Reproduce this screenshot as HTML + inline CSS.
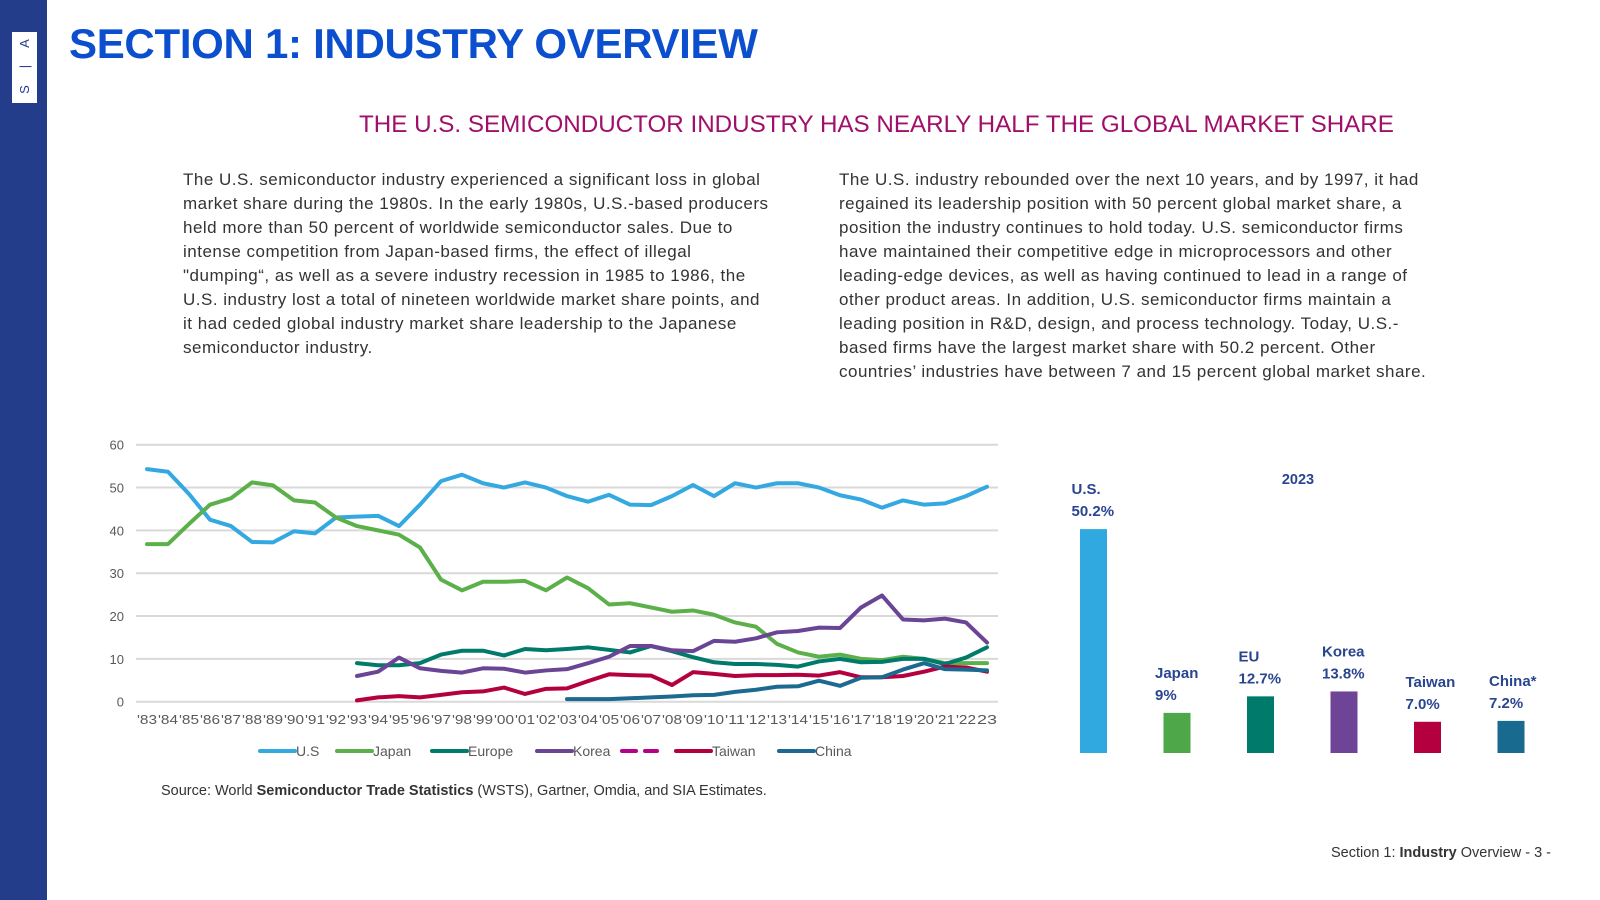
<!DOCTYPE html>
<html><head><meta charset="utf-8">
<style>
body{margin:0;width:1600px;height:900px;position:relative;background:#fff;font-family:"Liberation Sans",sans-serif;overflow:hidden}
.sidebar{position:absolute;left:0;top:0;width:47px;height:900px;background:#233d8a}
.logo{position:absolute;left:12px;top:32px;width:25px;height:71px;background:#fff;color:#233d8a;font-size:13px;text-align:center;line-height:23px}
.logo span{display:block;transform:rotate(-90deg)}
h1{position:absolute;left:69px;top:20px;margin:0;font-size:42px;font-weight:bold;color:#0b4fce;letter-spacing:-0.3px}
h2{position:absolute;left:359px;top:111px;margin:0;font-size:24.2px;font-weight:normal;color:#a0106a;white-space:nowrap}
.p{position:absolute;font-size:17px;letter-spacing:0.5px;line-height:24px;color:#333;margin:0;white-space:nowrap}
.src{position:absolute;left:161px;top:783px;font-size:14.5px;color:#333}
.foot{position:absolute;right:49px;top:845px;font-size:14.5px;color:#333}
svg{position:absolute;left:0;top:0}
</style></head><body>
<div class="sidebar"><div class="logo"><span>A</span><span>|</span><span>S</span></div></div>
<h1>SECTION 1: INDUSTRY OVERVIEW</h1>
<h2>THE U.S. SEMICONDUCTOR INDUSTRY HAS NEARLY HALF THE GLOBAL MARKET SHARE</h2>
<p class="p" style="left:183px;top:168px">The U.S. semiconductor industry experienced a significant loss in global<br>market share during the 1980s. In the early 1980s, U.S.-based producers<br>held more than 50 percent of worldwide semiconductor sales. Due to<br>intense competition from Japan-based firms, the effect of illegal<br>"dumping“, as well as a severe industry recession in 1985 to 1986, the<br>U.S. industry lost a total of nineteen worldwide market share points, and<br>it had ceded global industry market share leadership to the Japanese<br>semiconductor industry.</p>
<p class="p" style="left:839px;top:168px">The U.S. industry rebounded over the next 10 years, and by 1997, it had<br>regained its leadership position with 50 percent global market share, a<br>position the industry continues to hold today. U.S. semiconductor firms<br>have maintained their competitive edge in microprocessors and other<br>leading-edge devices, as well as having continued to lead in a range of<br>other product areas. In addition, U.S. semiconductor firms maintain a<br>leading position in R&amp;D, design, and process technology. Today, U.S.-<br>based firms have the largest market share with 50.2 percent. Other<br>countries’ industries have between 7 and 15 percent global market share.</p>
<div class="src">Source: World <b>Semiconductor Trade Statistics</b> (WSTS), Gartner, Omdia, and SIA Estimates.</div>
<div class="foot">Section 1: <b>Industry</b> Overview - 3 -</div>
<svg id="chart" width="1600" height="900"></svg>
<script>
const years=["'83","'84","'85","'86","'87","'88","'89","'90","'91","'92","'93","'94","'95","'96","'97","'98","'99","'00","'01","'02","'03","'04","'05","'06","'07","'08","'09","'10","'11","'12","'13","'14","'15","'16","'17","'18","'19","'20","'21","'22","23"];
const yTicks=[0,10,20,30,40,50,60];
const usVals=[54.3,53.7,48.5,42.5,41,37.3,37.2,39.8,39.3,43,43.2,43.4,41,46,51.5,53,51,50,51.2,50,48,46.7,48.3,46,45.9,48,50.6,48,51,50,51,51,50,48.2,47.2,45.3,47,46,46.3,48,50.2];
const japanVals=[36.8,36.8,41.5,46,47.5,51.2,50.5,47,46.5,43,41,40,39,36,28.5,26,28,28,28.2,26,29,26.5,22.7,23,22,21,21.3,20.3,18.5,17.5,13.5,11.5,10.5,11,10,9.7,10.5,10,9,9,9];
const europeVals=[9,8.5,8.5,9,11,11.9,11.9,10.8,12.3,12,12.3,12.7,12.1,11.5,13,11.8,10.4,9.2,8.8,8.8,8.6,8.2,9.4,10,9.2,9.3,10,10,8.8,10.3,12.7];
const koreaVals=[6,7,10.3,7.8,7.2,6.8,7.8,7.7,6.8,7.3,7.6,9,10.5,13,13,12,11.8,14.2,14,14.8,16.2,16.5,17.3,17.2,22,24.8,19.2,19,19.4,18.5,13.8];
const taiwanVals=[0.3,1,1.3,1,1.6,2.2,2.4,3.3,1.8,3,3.1,4.8,6.4,6.2,6.1,3.9,6.9,6.5,6,6.2,6.2,6.3,6.1,6.9,5.7,5.7,6,7,8.2,8,7];
const chinaVals=[0.6,0.6,0.6,0.8,1,1.2,1.5,1.6,2.3,2.8,3.5,3.6,4.9,3.7,5.6,5.7,7.5,9,7.6,7.5,7.3];
const barCats=["U.S.","Japan","EU","Korea","Taiwan","China*"];
const barVals=[50.2,9,12.7,13.8,7.0,7.2];
const barLabels=["50.2%","9%","12.7%","13.8%","7.0%","7.2%"];

const NS="http://www.w3.org/2000/svg";
const svg=document.getElementById('chart');
function mk(t,a,txt){const e=document.createElementNS(NS,t);for(const k in a)e.setAttribute(k,a[k]);if(txt!=null)e.textContent=txt;svg.appendChild(e);return e;}
const x=i=>147+i*21;
const y=v=>701.7-v*4.283;
yTicks.forEach(t=>{
  const g=mk('line',{x1:136,x2:998,y1:y(t),y2:y(t),stroke:'#d9d9d9','stroke-width':2});
  
  
  const l=mk('text',{x:124,y:y(t)+5,'text-anchor':'end','font-size':13,fill:'#595959'},t);
  
  
});
years.forEach((yr,i)=>{
  const l=mk('text',{x:x(i),y:724,'text-anchor':'middle','font-size':13,fill:'#595959',textLength:20,lengthAdjust:'spacingAndGlyphs'},yr);
  
  
});
const series=[["us",usVals,0,'#34a9e1'],["japan",japanVals,0,'#5cb04a'],["europe",europeVals,10,'#007a6a'],["korea",koreaVals,10,'#6a4596'],["taiwan",taiwanVals,10,'#b5003f'],["china",chinaVals,20,'#1c6a8f']];
series.forEach(([n,vals,off,c])=>{
  const p=mk('polyline',{points:vals.map((v,i)=>x(i+off)+','+y(v)).join(' '),fill:'none',stroke:c,'stroke-width':4,'stroke-linejoin':'round','stroke-linecap':'round'});
  
  
});
const legend=[["U.S",260,'#34a9e1',0],["Japan",337,'#5cb04a',0],["Europe",432,'#007a6a',0],["Korea",537,'#6a4596',0],["",622,'#b5008a',1],["Taiwan",676,'#b5003f',0],["China",779,'#1c6a8f',0]];
legend.forEach(([t,lx,c,d])=>{
  const l=mk('line',{x1:lx,x2:lx+35,y1:751,y2:751,stroke:c,'stroke-width':4,'stroke-linecap':'round'});
  if(d)l.setAttribute('stroke-dasharray','14 9');
  
  
  if(t){const tx=mk('text',{x:lx+36,y:756,'font-size':14,fill:'#595959'},t);
  
  }
});
const bx=i=>1093.5+i*83.5;
const by=v=>753-v*4.46;
const barCols=['#2fa9e0','#4ea748','#007a6a','#6e4596','#b5003f','#186a8f'];
const yr=mk('text',{x:1298,y:484,'text-anchor':'middle','font-size':14.5,'font-weight':'bold',fill:'#2a4590'},'2023');


barVals.forEach((v,i)=>{
  const r=mk('rect',{x:bx(i)-13.5,y:by(v),width:27,height:753-by(v),fill:barCols[i]});
  
  
  const lx=bx(i)-22;
  const a=mk('text',{x:lx,y:by(v)-35,'font-size':15,'font-weight':'bold',fill:'#2a4590'},barCats[i]);
  
  
  const b=mk('text',{x:lx,y:by(v)-13,'font-size':15,'font-weight':'bold',fill:'#2a4590'},barLabels[i]);
  
  
});
</script>
</body></html>
